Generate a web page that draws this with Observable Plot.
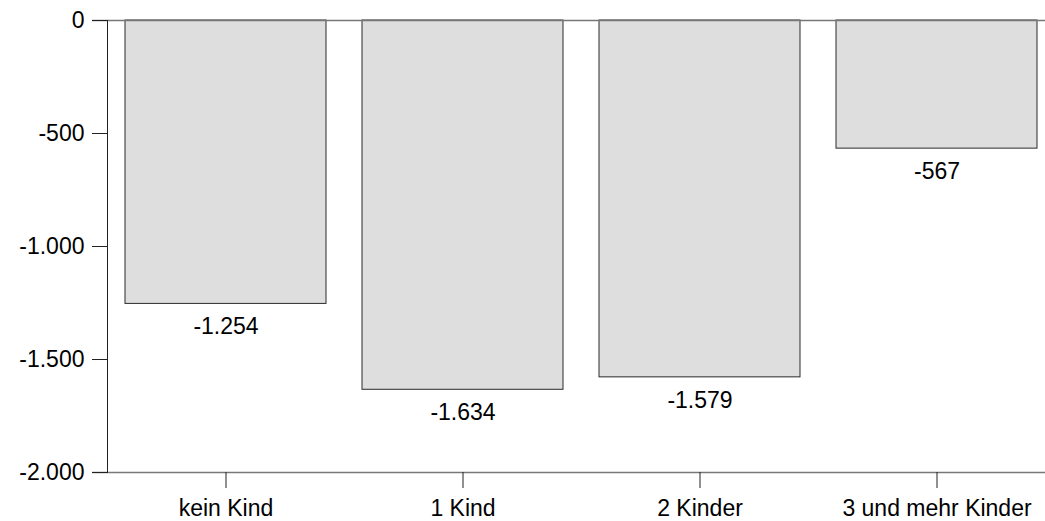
<!DOCTYPE html>
<html>
<head>
<meta charset="utf-8">
<script src="https://cdn.jsdelivr.net/npm/d3@7"></script>
<script src="https://cdn.jsdelivr.net/npm/@observablehq/plot@0.6"></script>
<style>
  html, body { margin: 0; padding: 0; background: #fff; }
  #chart svg { display: block; }
</style>
</head>
<body>
<div id="chart"></div>
<script>
const categories = ["kein Kind", "1 Kind", "2 Kinder", "3 und mehr Kinder"];
const values = [-1254, -1634, -1579, -567];
const yTicks = [0, -500, -1000, -1500, -2000];

const de = d3.formatLocale({decimal: ",", thousands: ".", grouping: [3], currency: ["", " €"], minus: "-"});
const fmt = de.format(",d");

const data = categories.map((c, i) => ({category: c, value: values[i]}));

const font = "'Liberation Sans', Arial, sans-serif";
const fs = 23;

const chart = Plot.plot({
  width: 1045,
  height: 521,
  marginTop: 20,
  marginBottom: 49,
  marginLeft: 107,
  marginRight: 0,
  style: {fontFamily: font, fontSize: fs + "px", color: "#000", background: "#fff", overflow: "hidden"},
  x: {domain: categories, range: [106, 1055], paddingInner: 0.152, paddingOuter: 0.076, label: null},
  y: {domain: [-2000, 0], label: null},
  marks: [
    Plot.barY(data, {x: "category", y: "value", fill: "#dedede", stroke: "#2a2a2a", strokeWidth: 1}),
    Plot.ruleY([0, -2000], {stroke: "#777", strokeWidth: 1.5, insetLeft: -15}),
    Plot.frame({anchor: "left", stroke: "#222", strokeWidth: 1}),
    Plot.axisY({ticks: yTicks, tickFormat: fmt, tickSize: 15, tickPadding: 8, fontSize: fs, stroke: "#222", label: null}),
    Plot.axisX({tickSize: 16, tickPadding: 11, fontSize: fs, stroke: "#222", label: null}),
    Plot.text(data, {x: "category", y: "value", text: d => fmt(d.value), lineAnchor: "top", dy: 14, fontSize: fs, fill: "#000"})
  ]
});

document.getElementById("chart").appendChild(chart);
</script>
</body>
</html>
